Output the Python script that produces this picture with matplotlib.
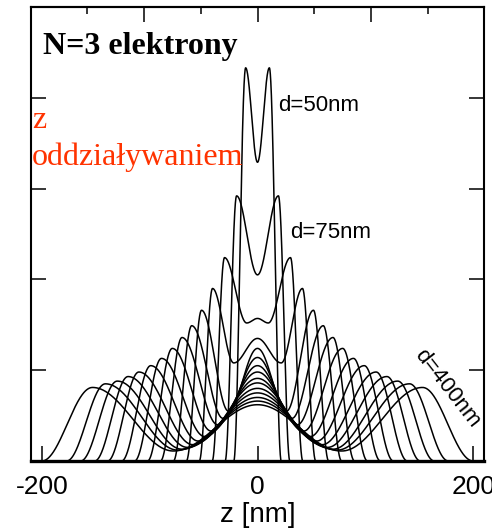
import numpy as np
import matplotlib.pyplot as plt

# electron density profiles, N=3, with interaction
d_nm = [50, 75, 100, 125, 150, 175, 200, 225, 250, 275, 300, 325, 350, 375, 400]
wall_z = [22, 30, 42, 54, 66, 78, 90, 102, 114, 126, 139, 151, 164, 177, 200]
outer_z = [11, 19.4, 30.6, 41.7, 51.9, 61, 70, 79, 89, 99, 110, 120, 130, 141, 153]
outer_h = [4.33, 2.92, 2.24, 1.90, 1.66, 1.49, 1.36, 1.24, 1.13, 1.05, 0.98, 0.93, 0.88, 0.85, 0.81]
min_z = [None, None, 10, 22, 27, 32, 37, 43, 49, 55, 60, 65, 70, 74, 78]
min_h = [None, None, 1.52, 1.08, 0.55, 0.47, 0.40, 0.33, 0.27, 0.22, 0.18, 0.15, 0.13, 0.12, 0.11]
center_h = [3.29, 2.05, 1.57, 1.35, 1.24, 1.14, 1.05, 0.98, 0.91, 0.86, 0.80, 0.75, 0.70, 0.66, 0.62]


def profile(i, n=200):
    # half profile: wall -> outer peak -> (minimum) -> centre, smooth between extrema
    pts = [(-wall_z[i], 0.0), (-outer_z[i], outer_h[i])]
    if min_z[i] is not None:
        pts.append((-min_z[i], min_h[i]))
    pts.append((0.0, center_h[i]))
    zs, ys = [], []
    for (z0, y0), (z1, y1) in zip(pts[:-1], pts[1:]):
        t = np.linspace(0, 1, n)
        zs.append(z0 + (z1 - z0) * t)
        ys.append(y0 + (y1 - y0) * (1 - np.cos(np.pi * t)) / 2)
    z = np.concatenate(zs)
    y = np.concatenate(ys)
    z = np.concatenate([z, -z[::-1]])
    y = np.concatenate([y, y[::-1]])
    return z, y


fig = plt.figure(figsize=(4.92, 5.32), dpi=100)
ax = fig.add_axes([31 / 492, 1 - 461 / 532, 453 / 492, 454 / 532])

for i in range(len(d_nm)):
    z, y = profile(i)
    ax.plot(z, y, color='black', lw=1.1, solid_capstyle='butt')

ax.set_xlim(-210, 210)
ax.set_ylim(0, 5)

ax.set_xticks([-200, 0, 200])
ax.set_xticklabels(['-200', '0', '200'], fontsize=19, family='Liberation Sans')
ax.set_yticks([1, 2, 3, 4])
ax.set_yticklabels([])
ax.tick_params(axis='both', direction='in', length=10.8, width=1.1)
ax.tick_params(axis='x', pad=10)
ax.tick_params(axis='y', right=True)

top = ax.secondary_xaxis('top')
top.set_xticks([-105.6, 0, 105.6])
top.set_xticks([-158.4, -52.8, 52.8, 158.4], minor=True)
top.set_xticklabels([])
top.tick_params(which='major', direction='in', length=10.8, width=1.1)
top.tick_params(which='minor', direction='in', length=5, width=1.1)
top.spines['top'].set_linewidth(1.5)

for s in ['left', 'right', 'top']:
    ax.spines[s].set_linewidth(1.5)
ax.spines['bottom'].set_linewidth(2.4)

ax.set_xlabel('z [nm]', fontsize=20, family='Liberation Sans', labelpad=2)

ax.text(0.027, 0.945, 'N=3 elektrony', transform=ax.transAxes, fontsize=23,
        fontweight='bold', family='Liberation Serif', va='top')
ax.text(-209, 3.67, 'z', fontsize=23, color='#ff3300', family='Liberation Serif',
        va='baseline')
ax.text(-209, 3.26, 'oddziaływaniem', fontsize=23, color='#ff3300',
        family='Liberation Serif', va='baseline')
ax.text(19, 3.86, 'd=50nm', fontsize=16, family='Liberation Sans')
ax.text(30, 2.46, 'd=75nm', fontsize=16, family='Liberation Sans')
ax.text(176, 0.80, 'd=400nm', fontsize=16, family='Liberation Sans',
        rotation=-52, ha='center', va='center')

plt.savefig('out.png', dpi=100)
